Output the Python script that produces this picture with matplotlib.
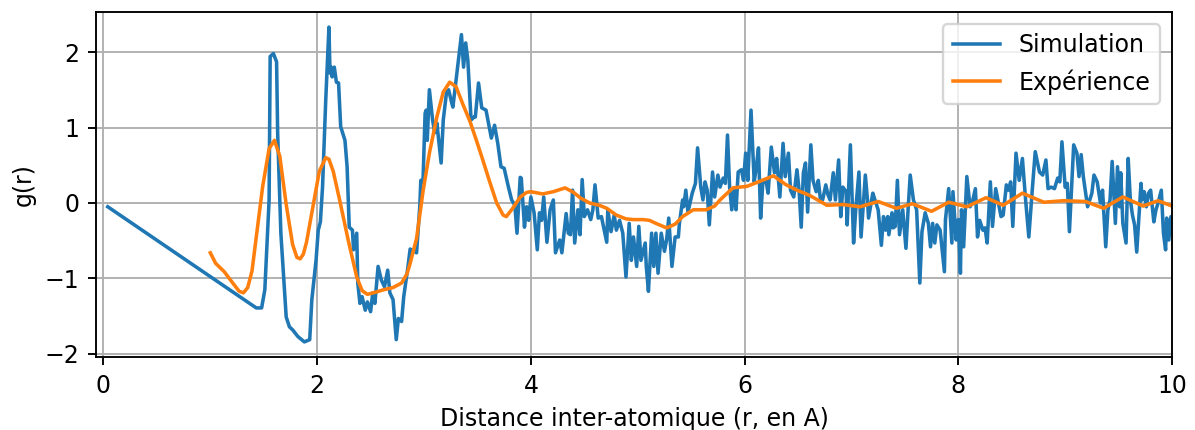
import numpy as np
import matplotlib.pyplot as plt

# simulation g(r)
r_sim = [0.04, 1.43, 1.48, 1.51, 1.55, 1.56, 1.59, 1.62, 1.63, 1.66, 1.71, 1.74, 1.77, 1.82, 1.88, 1.93,
         1.95, 1.99, 2.01, 2.03, 2.05, 2.08, 2.11, 2.12, 2.13, 2.14, 2.16, 2.18, 2.20, 2.22, 2.26, 2.28,
         2.30, 2.33, 2.34, 2.37, 2.38, 2.40, 2.42, 2.45, 2.47, 2.50, 2.52, 2.54, 2.57, 2.60, 2.63, 2.66,
         2.68, 2.71, 2.74, 2.76, 2.79, 2.81, 2.85, 2.87, 2.93, 2.96, 2.97, 2.99, 3.01, 3.02, 3.03, 3.05,
         3.08, 3.10, 3.12, 3.16, 3.18, 3.21, 3.23, 3.26, 3.27, 3.30, 3.35, 3.37, 3.39, 3.41, 3.44, 3.47,
         3.48, 3.51, 3.54, 3.58, 3.63, 3.66, 3.69, 3.72, 3.75, 3.79, 3.82, 3.85, 3.87, 3.90, 3.91, 3.94,
         3.96, 3.98, 4.00, 4.03, 4.06, 4.08, 4.10, 4.12, 4.15, 4.18, 4.21, 4.23, 4.27, 4.29, 4.33, 4.35,
         4.37, 4.39, 4.41, 4.44, 4.46, 4.48, 4.50, 4.53, 4.56, 4.58, 4.60, 4.63, 4.66, 4.71, 4.72, 4.75,
         4.78, 4.80, 4.83, 4.86, 4.89, 4.92, 4.94, 4.96, 4.99, 5.01, 5.03, 5.07, 5.08, 5.10, 5.13, 5.15,
         5.17, 5.19, 5.22, 5.25, 5.27, 5.29, 5.32, 5.35, 5.38, 5.39, 5.42, 5.43, 5.45, 5.47, 5.51, 5.54,
         5.56, 5.59, 5.61, 5.63, 5.65, 5.67, 5.70, 5.72, 5.75, 5.77, 5.80, 5.82, 5.84, 5.86, 5.88, 5.90,
         5.92, 5.94, 5.97, 5.99, 6.01, 6.03, 6.06, 6.09, 6.11, 6.13, 6.15, 6.17, 6.20, 6.22, 6.25, 6.28,
         6.30, 6.33, 6.36, 6.38, 6.41, 6.43, 6.46, 6.49, 6.51, 6.53, 6.55, 6.57, 6.59, 6.62, 6.64, 6.67,
         6.69, 6.71, 6.73, 6.76, 6.78, 6.80, 6.83, 6.85, 6.88, 6.90, 6.92, 6.95, 6.96, 6.99, 7.02, 7.04,
         7.07, 7.09, 7.13, 7.15, 7.16, 7.20, 7.22, 7.25, 7.28, 7.30, 7.32, 7.34, 7.35, 7.38, 7.39, 7.41,
         7.43, 7.45, 7.48, 7.51, 7.53, 7.55, 7.58, 7.61, 7.64, 7.66, 7.69, 7.72, 7.74, 7.76, 7.78, 7.80,
         7.83, 7.87, 7.88, 7.91, 7.94, 7.95, 7.98, 8.00, 8.02, 8.03, 8.05, 8.08, 8.11, 8.13, 8.16, 8.18,
         8.20, 8.23, 8.25, 8.27, 8.30, 8.32, 8.35, 8.37, 8.40, 8.42, 8.45, 8.47, 8.49, 8.51, 8.54, 8.57,
         8.60, 8.63, 8.66, 8.69, 8.72, 8.76, 8.79, 8.82, 8.84, 8.87, 8.90, 8.93, 8.95, 8.97, 9.00, 9.02,
         9.04, 9.08, 9.11, 9.13, 9.15, 9.17, 9.21, 9.23, 9.25, 9.27, 9.30, 9.33, 9.35, 9.38, 9.40, 9.42,
         9.44, 9.47, 9.49, 9.51, 9.52, 9.54, 9.57, 9.59, 9.61, 9.63, 9.65, 9.67, 9.71, 9.72, 9.74, 9.76,
         9.78, 9.80, 9.83, 9.85, 9.87, 9.90, 9.92, 9.94, 9.95, 9.97, 9.99, 10.02]
g_sim = [-0.05, -1.39, -1.39, -1.15, 0.04, 1.94, 1.98, 1.87, 0.93, -0.40, -1.51, -1.64, -1.68, -1.77, -1.84, -1.81,
         -1.28, -0.75, -0.36, -0.25, 0.21, 1.36, 2.33, 1.72, 1.80, 1.67, 1.80, 1.60, 1.59, 1.01, 0.83, 0.48,
         -0.32, -0.36, -0.62, -0.40, -1.06, -1.33, -1.24, -1.42, -1.31, -1.44, -1.19, -1.33, -0.84, -1.02, -1.11, -0.89,
         -1.19, -1.28, -1.81, -1.53, -1.57, -1.24, -0.84, -0.61, -0.66, -0.05, 0.30, 0.27, 1.19, 1.23, 0.83, 1.50,
         1.10, 0.93, 1.06, 0.53, 1.10, 1.46, 1.50, 1.32, 1.27, 1.63, 2.23, 1.80, 2.12, 1.89, 1.10, 1.14,
         1.14, 1.59, 1.26, 1.23, 0.86, 1.03, 0.79, 0.48, 0.46, 0.21, 0.04, -0.03, -0.40, 0.34, 0.33, -0.32,
         -0.05, -0.23, 0.08, -0.13, -0.62, -0.13, -0.23, 0.08, -0.52, -0.09, 0.04, -0.66, -0.49, -0.66, -0.14, -0.40,
         -0.42, 0.17, -0.53, -0.09, -0.42, 0.31, -0.18, -0.09, -0.22, -0.09, 0.24, -0.20, -0.18, -0.52, -0.09, -0.38,
         -0.16, -0.36, -0.23, -0.40, -0.98, -0.27, -0.76, -0.45, -0.84, -0.31, -0.76, -0.53, -0.84, -1.17, -0.40, -0.84,
         -0.40, -0.93, -0.40, -0.64, -0.49, -0.20, -0.84, -0.45, -0.45, -0.27, 0.04, -0.05, 0.17, -0.12, 0.13, 0.26,
         0.73, 0.21, 0.04, 0.28, 0.17, -0.29, 0.41, 0.08, 0.37, 0.21, 0.33, 0.26, 0.90, 0.21, -0.09, 0.17,
         -0.09, 0.41, 0.44, 0.30, 0.66, 0.30, 1.23, 0.28, 0.48, 0.73, -0.20, 0.26, 0.30, 0.13, 0.74, 0.40,
         0.59, 0.08, 0.79, 0.35, 0.66, 0.17, 0.08, 0.44, 0.17, -0.32, 0.40, 0.53, -0.12, 0.77, 0.30, 0.15,
         0.30, 0.04, 0.04, 0.24, 0.11, 0.04, 0.40, 0.04, 0.57, -0.18, 0.21, 0.15, -0.29, 0.77, -0.53, -0.09,
         0.41, -0.45, 0.37, 0.04, -0.20, 0.13, 0.04, -0.09, -0.56, -0.18, -0.36, -0.18, -0.42, -0.13, -0.33, -0.31,
         0.30, -0.42, -0.09, -0.60, -0.09, 0.37, 0.04, -0.09, -1.06, -0.38, -0.13, -0.27, -0.58, -0.27, -0.53, -0.29,
         -0.36, -0.91, -0.22, 0.19, -0.53, 0.15, -0.49, -0.22, -0.93, -0.09, -0.58, 0.35, -0.05, 0.00, 0.19, -0.45,
         -0.23, -0.36, -0.33, -0.53, 0.28, -0.31, 0.19, 0.04, -0.18, -0.16, 0.24, 0.17, 0.28, -0.31, 0.66, 0.30,
         0.59, 0.04, -0.45, 0.13, 0.68, 0.41, 0.37, 0.57, 0.19, 0.21, 0.19, 0.33, 0.28, 0.81, 0.21, 0.26,
         -0.38, 0.77, 0.66, 0.35, 0.64, 0.35, -0.05, 0.04, 0.13, 0.37, 0.28, 0.00, 0.17, -0.58, -0.09, 0.04,
         0.55, -0.27, 0.48, -0.05, 0.40, -0.27, -0.53, 0.59, 0.04, -0.16, -0.29, -0.65, 0.26, 0.04, 0.15, -0.05,
         0.13, 0.17, -0.25, -0.09, 0.00, 0.17, -0.40, -0.62, -0.20, -0.49, -0.18, -0.50]

# experience g(r)
r_exp = [1.00, 1.05, 1.13, 1.21, 1.27, 1.31, 1.35, 1.39, 1.43, 1.49, 1.55, 1.60, 1.65, 1.71, 1.77, 1.81,
         1.84, 1.87, 1.90, 1.96, 2.02, 2.08, 2.11, 2.15, 2.21, 2.29, 2.37, 2.42, 2.47, 2.55, 2.62, 2.71,
         2.79, 2.84, 2.87, 2.93, 2.99, 3.05, 3.12, 3.18, 3.24, 3.30, 3.36, 3.43, 3.49, 3.55, 3.61, 3.68,
         3.74, 3.77, 3.83, 3.90, 3.96, 4.00, 4.11, 4.21, 4.32, 4.40, 4.46, 4.55, 4.64, 4.71, 4.80, 4.89,
         4.96, 5.05, 5.11, 5.17, 5.27, 5.35, 5.42, 5.52, 5.64, 5.72, 5.77, 5.89, 6.02, 6.13, 6.27, 6.39,
         6.49, 6.61, 6.77, 6.92, 7.08, 7.25, 7.42, 7.57, 7.75, 7.91, 8.08, 8.26, 8.42, 8.60, 8.80, 8.98,
         9.19, 9.36, 9.54, 9.73, 9.87, 10.00]
g_exp = [-0.66, -0.80, -0.91, -1.06, -1.17, -1.19, -1.12, -0.90, -0.45, 0.22, 0.72, 0.83, 0.62, -0.02, -0.55, -0.72,
         -0.74, -0.68, -0.52, -0.05, 0.42, 0.60, 0.58, 0.42, 0.04, -0.49, -0.98, -1.16, -1.21, -1.18, -1.15, -1.12,
         -1.06, -0.94, -0.80, -0.47, 0.15, 0.66, 1.14, 1.47, 1.60, 1.54, 1.32, 1.08, 0.83, 0.57, 0.30, 0.00,
         -0.16, -0.18, -0.07, 0.08, 0.14, 0.15, 0.12, 0.15, 0.20, 0.14, 0.07, 0.00, -0.03, -0.07, -0.16, -0.21,
         -0.22, -0.22, -0.23, -0.27, -0.33, -0.28, -0.18, -0.09, -0.09, -0.04, 0.04, 0.20, 0.22, 0.28, 0.36, 0.24,
         0.17, 0.10, -0.03, -0.02, -0.05, 0.02, -0.07, -0.01, -0.11, 0.01, -0.05, 0.07, -0.03, 0.13, 0.01, 0.03,
         0.02, -0.07, 0.08, -0.04, 0.03, -0.04]

dpi = 170
fig = plt.figure(figsize=(1195/dpi, 430/dpi), dpi=dpi)
ax = fig.add_axes([96/1195, 1-357/430, (1172-96)/1195, (357-12)/430])

ax.plot(r_sim, g_sim, label='Simulation')
ax.plot(r_exp, g_exp, label='Expérience')
ax.legend(loc='upper right')
ax.grid(True)
ax.set_xlim(-0.07, 10)
ax.set_ylim(-2.04, 2.53)
ax.set_xlabel('Distance inter-atomique (r, en A)')
ax.set_ylabel('g(r)')

fig.savefig('out.png', dpi=dpi)
